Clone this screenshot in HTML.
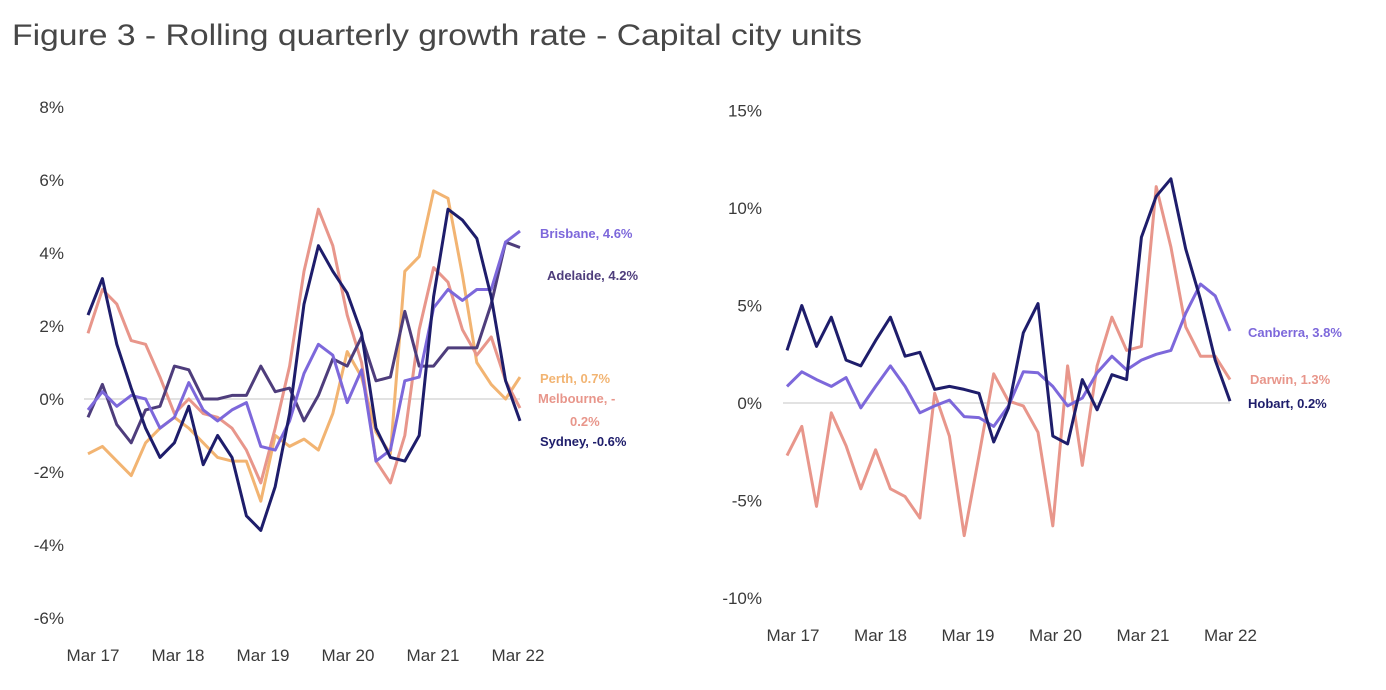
<!DOCTYPE html>
<html><head><meta charset="utf-8">
<style>
html,body{margin:0;padding:0;background:#fff;}
svg{display:block;font-family:"Liberation Sans",sans-serif;}
.tick{font-size:17px;fill:#3a3a3a;}
.lbl{font-size:13px;font-weight:bold;}
</style></head>
<body>
<svg id="chart" width="1386" height="690" viewBox="0 0 1386 690">
<text x="12" y="45" font-size="30" fill="#474747" textLength="850" lengthAdjust="spacingAndGlyphs">Figure 3 - Rolling quarterly growth rate - Capital city units</text>
<g id="left"></g>
<g id="right"></g>
</svg>
<script>
// Left chart data (bi-monthly samples, Mar 17 - Mar 22)
const leftTicks = [8, 6, 4, 2, 0, -2, -4, -6];
const leftXLabels = ["Mar 17", "Mar 18", "Mar 19", "Mar 20", "Mar 21", "Mar 22"];
const sydney = [2.3,3.3,1.5,0.3,-0.8,-1.6,-1.2,-0.2,-1.8,-1.0,-1.6,-3.2,-3.6,-2.4,-0.4,2.6,4.2,3.5,2.9,1.8,-0.8,-1.6,-1.7,-1.0,2.8,5.2,4.9,4.4,2.8,0.5,-0.6];
const melbourne = [1.8,3.0,2.6,1.6,1.5,0.6,-0.4,0.0,-0.4,-0.5,-0.8,-1.4,-2.3,-0.8,0.9,3.5,5.2,4.2,2.3,1.0,-1.7,-2.3,-1.0,1.9,3.6,3.2,1.9,1.2,1.7,0.5,-0.25];
const brisbane = [-0.3,0.2,-0.2,0.1,0.0,-0.8,-0.5,0.45,-0.3,-0.6,-0.3,-0.1,-1.3,-1.4,-0.6,0.7,1.5,1.2,-0.1,0.8,-1.7,-1.4,0.5,0.6,2.5,3.0,2.7,3.0,3.0,4.3,4.6];
const adelaide = [-0.5,0.4,-0.7,-1.2,-0.3,-0.2,0.9,0.8,0.0,0.0,0.1,0.1,0.9,0.2,0.3,-0.6,0.1,1.1,0.9,1.7,0.5,0.6,2.4,0.9,0.9,1.4,1.4,1.4,2.6,4.3,4.15];
const perth = [-1.5,-1.3,-1.7,-2.1,-1.2,-0.8,-0.5,-0.8,-1.2,-1.6,-1.7,-1.7,-2.8,-1.0,-1.3,-1.1,-1.4,-0.4,1.3,0.6,-0.9,-1.5,3.5,3.9,5.7,5.5,3.4,1.0,0.4,0.0,0.6];
// Right chart data
const rightTicks = [15, 10, 5, 0, -5, -10];
const rightXLabels = ["Mar 17", "Mar 18", "Mar 19", "Mar 20", "Mar 21", "Mar 22"];
const hobart = [2.7,5.0,2.9,4.4,2.2,1.9,3.2,4.4,2.4,2.6,0.7,0.85,0.7,0.5,-2.0,-0.25,3.6,5.1,-1.7,-2.1,1.2,-0.35,1.45,1.2,8.5,10.6,11.5,7.9,5.3,2.2,0.1];
const canberra = [0.85,1.6,1.2,0.85,1.3,-0.25,0.85,1.9,0.85,-0.5,-0.15,0.15,-0.7,-0.75,-1.2,-0.15,1.6,1.55,0.85,-0.15,0.25,1.55,2.4,1.7,2.2,2.5,2.7,4.6,6.1,5.5,3.7];
const darwin = [-2.7,-1.2,-5.3,-0.5,-2.2,-4.4,-2.4,-4.4,-4.8,-5.9,0.5,-1.7,-6.8,-2.7,1.5,0.1,-0.15,-1.5,-6.3,1.9,-3.2,1.9,4.4,2.7,2.9,11.1,8.0,3.9,2.4,2.4,1.2];

const NS = "http://www.w3.org/2000/svg";
function mk(tag, attrs, parent){const e=document.createElementNS(NS,tag);for(const k in attrs)e.setAttribute(k,attrs[k]);parent.appendChild(e);return e;}

function drawChart(g, cfg){
  const yS = v => cfg.y0 - v*cfg.yPer;
  const xS = i => cfg.x0 + i*(cfg.x1-cfg.x0)/(cfg.n-1);
  const zl = mk("line",{x1:cfg.x0-4,x2:cfg.x1,y1:yS(0),y2:yS(0),stroke:"#d9d9d9","stroke-width":1.5},g);
  
  
  cfg.ticks.forEach(t=>{
    const tx = mk("text",{x:cfg.tickX,y:yS(t)+6,"text-anchor":"end",class:"tick"},g);
    tx.textContent = t+"%";
    
    
  });
  cfg.xLabels.forEach((l,i)=>{
    const tx = mk("text",{x:cfg.lx0+i*cfg.lstep,y:cfg.ly,"text-anchor":"middle",class:"tick"},g);
    tx.textContent = l;
    
    
  });
  cfg.series.forEach(s=>{
    const pts = s.data.map((v,i)=>xS(i).toFixed(1)+","+yS(v).toFixed(1)).join(" ");
    const pl = mk("polyline",{points:pts,fill:"none",stroke:s.color,"stroke-width":3,"stroke-linejoin":"round"},g);
    
    
  });
  cfg.labels.forEach(l=>{
    const tx = mk("text",{x:l.x,y:l.y,class:"lbl",fill:l.color},g);
    tx.textContent = l.text;
    
    
  });
}

drawChart(document.getElementById("left"),{
  x0:88,x1:520,n:31,y0:399,yPer:36.5,tickX:64,ticks:leftTicks,
  xLabels:leftXLabels,lx0:93,lstep:85,ly:661,
  series:[
    {name:"perth",data:perth,color:"#f2b472"},
    {name:"melbourne",data:melbourne,color:"#e8968b"},
    {name:"adelaide",data:adelaide,color:"#4e3d7c"},
    {name:"brisbane",data:brisbane,color:"#7d68db"},
    {name:"sydney",data:sydney,color:"#1e1d6b"}
  ],
  labels:[
    {x:540,y:238,text:"Brisbane, 4.6%",color:"#7d68db"},
    {x:547,y:280,text:"Adelaide, 4.2%",color:"#4e3d7c"},
    {x:540,y:383,text:"Perth, 0.7%",color:"#f2b472"},
    {x:538,y:403,text:"Melbourne, -",color:"#e8968b"},
    {x:570,y:426,text:"0.2%",color:"#e8968b"},
    {x:540,y:446,text:"Sydney, -0.6%",color:"#1e1d6b"}
  ]
});
drawChart(document.getElementById("right"),{
  x0:787,x1:1230,n:31,y0:403,yPer:19.5,tickX:762,ticks:rightTicks,
  xLabels:rightXLabels,lx0:793,lstep:87.5,ly:641,
  series:[
    {name:"darwin",data:darwin,color:"#e8968b"},
    {name:"canberra",data:canberra,color:"#7d68db"},
    {name:"hobart",data:hobart,color:"#1e1d6b"}
  ],
  labels:[
    {x:1248,y:337,text:"Canberra, 3.8%",color:"#7d68db"},
    {x:1250,y:384,text:"Darwin, 1.3%",color:"#e8968b"},
    {x:1248,y:408,text:"Hobart, 0.2%",color:"#1e1d6b"}
  ]
});
</script>
</body></html>
